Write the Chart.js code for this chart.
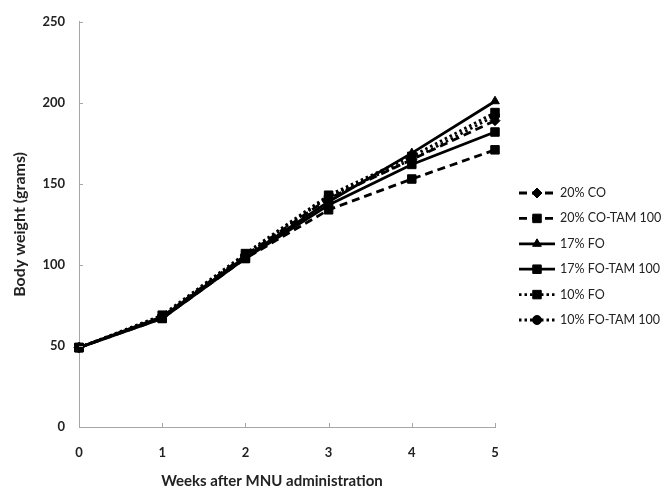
<!DOCTYPE html>
<html>
<head>
<meta charset="utf-8">
<script src="https://cdn.jsdelivr.net/npm/chart.js@4.4.1/dist/chart.umd.min.js"></script>
<style>
  html, body { margin: 0; padding: 0; background: #fff; }
  #wrap { width: 663px; height: 492px; }
</style>
</head>
<body>
<div id="wrap"><canvas id="myChart" width="663" height="492"></canvas></div>
<script>
// Dati del grafico
const weeks = ['0', '1', '2', '3', '4', '5'];
const yTicks = [0, 50, 100, 150, 200, 250];

const seriesNames = ['20% CO', '20% CO-TAM 100', '17% FO', '17% FO-TAM 100', '10% FO', '10% FO-TAM 100'];
const co20 = [49, 68, 106, 141, 165, 189];
const co20Tam = [49, 67, 104, 134, 153, 171];
const fo17 = [49, 68, 105, 139, 169, 201];
const fo17Tam = [49, 67, 104, 137, 162, 182];
const fo10 = [49, 69, 107, 143, 167, 194];
const fo10Tam = [49, 68, 106, 142, 165, 192];

const xTitle = 'Weeks after MNU administration';
const yTitle = 'Body weight (grams)';

// Stili delle linee
const dashed = [8, 5];
const dotted = [2.5, 3];
const solid = [];

const axisGrey = '#a6a6a6';
const fontFamily = 'Lato, "Open Sans", sans-serif';

function makeDataset(label, data, dash, pointStyle, radius) {
    return {
        label: label,
        data: data,
        borderColor: '#000',
        backgroundColor: '#000',
        borderWidth: 2.8,
        borderDash: dash,
        pointStyle: pointStyle,
        pointRadius: radius,
        pointHoverRadius: radius,
        pointBorderWidth: 1,
        tension: 0
    };
}

const datasets = [
    makeDataset(seriesNames[0], co20, dashed, 'rectRot', 5),
    makeDataset(seriesNames[1], co20Tam, dashed, 'rect', 6),
    makeDataset(seriesNames[2], fo17, solid, 'triangle', 5),
    makeDataset(seriesNames[3], fo17Tam, solid, 'rect', 6),
    makeDataset(seriesNames[4], fo10, dotted, 'rect', 6),
    makeDataset(seriesNames[5], fo10Tam, dotted, 'circle', 4.5)
];

// Piccole tacche interne sugli assi + titolo dell'asse x
const innerTicks = {
    id: 'innerTicks',
    afterDraw(chart) {
        const c = chart.ctx;
        const x = chart.scales.x, y = chart.scales.y;
        c.save();
        c.strokeStyle = axisGrey;
        c.lineWidth = 1;
        c.beginPath();
        weeks.forEach((w, i) => {
            const px = Math.round(x.getPixelForValue(i)) + 0.5;
            c.moveTo(px, y.bottom);
            c.lineTo(px, y.bottom - 4);
        });
        yTicks.forEach(v => {
            const py = Math.round(y.getPixelForValue(v)) + 0.5;
            c.moveTo(x.left, py);
            c.lineTo(x.left + 4, py);
        });
        c.stroke();

        // titolo asse x (un po' spostato a sinistra come nell'originale)
        c.fillStyle = '#222';
        c.font = 'bold 15px ' + fontFamily;
        c.textAlign = 'center';
        c.textBaseline = 'middle';
        c.fillText(xTitle, 272, 481);
        c.restore();
    }
};

// Legenda disegnata a mano (linea + marcatore)
const lineLegend = {
    id: 'lineLegend',
    afterDraw(chart) {
        const c = chart.ctx;
        c.save();
        chart.data.datasets.forEach((ds, i) => {
            const ly = 193 + i * 25.4;
            c.strokeStyle = '#000';
            c.lineWidth = 2.8;
            c.setLineDash(ds.borderDash);
            c.beginPath();
            c.moveTo(519, ly);
            c.lineTo(555, ly);
            c.stroke();
            c.setLineDash([]);
            c.fillStyle = '#000';
            c.lineWidth = 1;
            Chart.helpers.drawPoint(c, {
                pointStyle: ds.pointStyle,
                radius: ds.pointRadius,
                rotation: 0,
                borderWidth: 1
            }, 537, ly);
            c.fillStyle = '#222';
            c.font = '12.5px ' + fontFamily;
            c.textBaseline = 'middle';
            c.textAlign = 'left';
            c.fillText(ds.label, 560, ly);
        });
        c.restore();
    }
};

const graph = new Chart(document.getElementById('myChart'), {
    type: 'line',
    data: {
        labels: weeks,
        datasets: datasets
    },
    options: {
        responsive: false,
        animation: false,
        layout: {
            padding: { left: 0, right: 168, top: 19, bottom: 0 }
        },
        plugins: {
            legend: { display: false },
            tooltip: { enabled: false }
        },
        scales: {
            x: {
                offset: false,
                grid: { display: false, drawTicks: false },
                border: { color: axisGrey, width: 1 },
                ticks: {
                    padding: 18,
                    color: '#222',
                    font: { family: fontFamily, size: 13, weight: 'bold' }
                },
                afterFit(scale) { scale.height = 65; }
            },
            y: {
                min: 0,
                max: 250,
                grid: { display: false, drawTicks: false },
                border: { color: axisGrey, width: 1 },
                ticks: {
                    stepSize: 50,
                    padding: 14,
                    color: '#222',
                    font: { family: fontFamily, size: 13, weight: 'bold' }
                },
                title: {
                    display: true,
                    text: yTitle,
                    color: '#222',
                    padding: { top: 10, bottom: 0 },
                    font: { family: fontFamily, size: 16, weight: 'bold' }
                },
                afterFit(scale) { scale.width = 79; }
            }
        }
    },
    plugins: [innerTicks, lineLegend]
});
</script>
</body>
</html>
